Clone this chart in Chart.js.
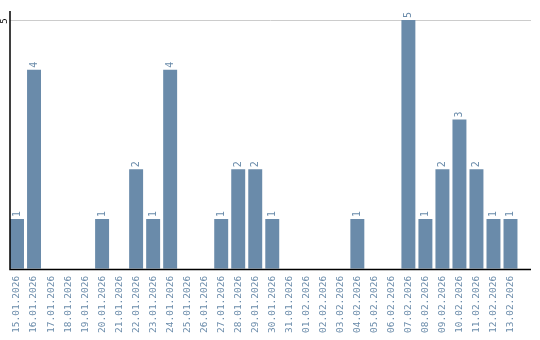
<!DOCTYPE html>
<html>
<head>
<meta charset="utf-8">
<script src="https://cdn.jsdelivr.net/npm/chart.js@4"></script>
<style>
  html, body { margin: 0; padding: 0; background: #fff; }
  #wrap { width: 540px; height: 340px; }
</style>
</head>
<body>
<div id="wrap"><canvas id="c"></canvas></div>
<script>
const dates = [
  "15.01.2026", "16.01.2026", "17.01.2026", "18.01.2026", "19.01.2026",
  "20.01.2026", "21.01.2026", "22.01.2026", "23.01.2026", "24.01.2026",
  "25.01.2026", "26.01.2026", "27.01.2026", "28.01.2026", "29.01.2026",
  "30.01.2026", "31.01.2026", "01.02.2026", "02.02.2026", "03.02.2026",
  "04.02.2026", "05.02.2026", "06.02.2026", "07.02.2026", "08.02.2026",
  "09.02.2026", "10.02.2026", "11.02.2026", "12.02.2026", "13.02.2026"
];
const counts = [1, 4, 0, 0, 0, 1, 0, 2, 1, 4, 0, 0, 1, 2, 2, 1, 0, 0, 0, 0, 1, 0, 0, 5, 1, 2, 3, 2, 1, 1];
const yTicks = [5];

const barColor = "#6a8baa";
const mono = "'DejaVu Sans Mono', monospace";

// axes, grid line and value labels drawn by hand
const decor = {
  id: "decor",
  beforeDatasetsDraw(chart) {
    const { ctx, scales } = chart;
    ctx.save();
    ctx.strokeStyle = "#cccccc";
    ctx.lineWidth = 1;
    yTicks.forEach((t) => {
      const y = Math.round(scales.y.getPixelForValue(t)) + 0.5;
      ctx.beginPath();
      ctx.moveTo(10, y);
      ctx.lineTo(531, y);
      ctx.stroke();
    });
    ctx.restore();
  },
  afterDraw(chart) {
    const { ctx, scales } = chart;
    const bottom = Math.round(scales.y.getPixelForValue(0)) + 0.5;
    ctx.save();
    ctx.strokeStyle = "#000";
    ctx.lineWidth = 1.5;
    ctx.beginPath();
    ctx.moveTo(10, 11);
    ctx.lineTo(10, bottom);
    ctx.lineTo(531, bottom);
    ctx.stroke();

    // y tick text
    ctx.fillStyle = "#000";
    ctx.font = "9px " + mono;
    ctx.textAlign = "center";
    ctx.textBaseline = "middle";
    yTicks.forEach((t) => {
      ctx.save();
      ctx.translate(4.5, scales.y.getPixelForValue(t) + 1);
      ctx.rotate(-Math.PI / 2);
      ctx.fillText(String(t), 0, 0);
      ctx.restore();
    });

    // value labels
    ctx.fillStyle = barColor;
    ctx.font = "10px " + mono;
    ctx.textAlign = "left";
    const meta = chart.getDatasetMeta(0);
    meta.data.forEach((bar, i) => {
      if (!counts[i]) return;
      ctx.save();
      ctx.translate(bar.x, bar.y - 2);
      ctx.rotate(-Math.PI / 2);
      ctx.fillText(String(counts[i]), 0, 0);
      ctx.restore();
    });
    ctx.restore();
  },
};

new Chart(document.getElementById("c"), {
  type: "bar",
  data: {
    labels: dates,
    datasets: [{
      data: counts,
      backgroundColor: barColor,
      borderWidth: 0,
      categoryPercentage: 1,
      barPercentage: 0.82,
    }],
  },
  options: {
    responsive: true,
    maintainAspectRatio: false,
    animation: false,
    layout: { padding: { left: 8.5, right: 21, top: 20, bottom: 0 } },
    plugins: { legend: { display: false }, tooltip: { enabled: false } },
    scales: {
      x: {
        grid: { display: false, drawTicks: false },
        border: { display: false },
        ticks: {
          color: barColor,
          font: { family: mono, size: 9.5 },
          minRotation: 90,
          maxRotation: 90,
          autoSkip: false,
          padding: 7,
        },
      },
      y: {
        display: false,
        min: 0,
        max: 5,
      },
    },
  },
  plugins: [decor],
});
</script>
</body>
</html>
